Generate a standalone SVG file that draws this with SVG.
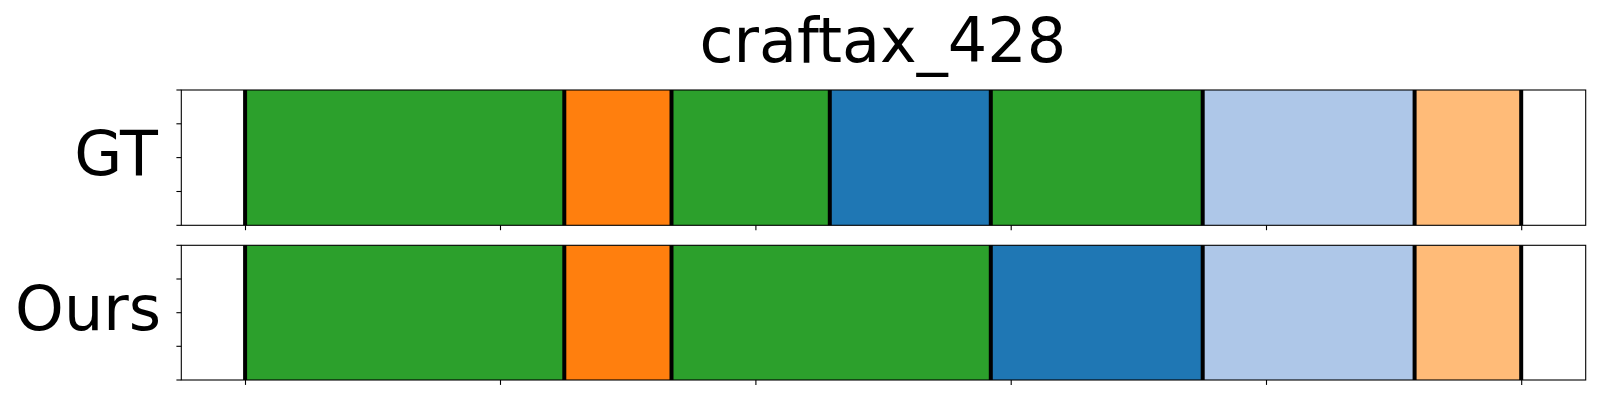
<svg xmlns="http://www.w3.org/2000/svg" width="1600" height="400" viewBox="0 0 1600 400">
<style>
text{font-family:"DejaVu Sans","Liberation Sans",sans-serif;fill:#000}
.t{font-size:62px}
.lab{font-size:62px;text-anchor:end}
.g{fill:#2ca02c}.o{fill:#ff7f0e}.b{fill:#1f77b4}.lb{fill:#aec7e8}.lo{fill:#ffbb78}
.v{stroke:#000;stroke-width:4}
.sp{fill:none;stroke:#000;stroke-width:1.1}
.tk{stroke:#000;stroke-width:1.1}
</style>
<rect width="1600" height="400" fill="#fff"/>
<text class="t" x="882.8" y="62.3" text-anchor="middle">craftax_428</text>
<g id="gt">
<rect x="181.3" y="90" width="1404.4" height="135.3" fill="#fff"/>
<rect class="g" x="245.1" y="90" width="319.2" height="135.3"/>
<rect class="o" x="564.3" y="90" width="107.2" height="135.3"/>
<rect class="g" x="671.5" y="90" width="158.3" height="135.3"/>
<rect class="b" x="829.8" y="90" width="161" height="135.3"/>
<rect class="g" x="990.8" y="90" width="211.9" height="135.3"/>
<rect class="lb" x="1202.7" y="90" width="211.9" height="135.3"/>
<rect class="lo" x="1414.6" y="90" width="107.3" height="135.3"/>
<g class="v">
<line x1="245.1" y1="90" x2="245.1" y2="225.3"/>
<line x1="564.3" y1="90" x2="564.3" y2="225.3"/>
<line x1="671.5" y1="90" x2="671.5" y2="225.3"/>
<line x1="829.8" y1="90" x2="829.8" y2="225.3"/>
<line x1="990.8" y1="90" x2="990.8" y2="225.3"/>
<line x1="1202.7" y1="90" x2="1202.7" y2="225.3"/>
<line x1="1414.6" y1="90" x2="1414.6" y2="225.3"/>
<line x1="1521.2" y1="90" x2="1521.2" y2="225.3"/>
</g>
<rect class="sp" x="181.3" y="90" width="1404.4" height="135.3"/>
<g class="tk">
<line x1="176.4" y1="90" x2="181.3" y2="90"/>
<line x1="176.4" y1="123.8" x2="181.3" y2="123.8"/>
<line x1="176.4" y1="157.6" x2="181.3" y2="157.6"/>
<line x1="176.4" y1="191.5" x2="181.3" y2="191.5"/>
<line x1="176.4" y1="225.3" x2="181.3" y2="225.3"/>
<line x1="245.5" y1="225.3" x2="245.5" y2="230.2"/>
<line x1="500.5" y1="225.3" x2="500.5" y2="230.2"/>
<line x1="755.9" y1="225.3" x2="755.9" y2="230.2"/>
<line x1="1011.2" y1="225.3" x2="1011.2" y2="230.2"/>
<line x1="1266.5" y1="225.3" x2="1266.5" y2="230.2"/>
<line x1="1521.7" y1="225.3" x2="1521.7" y2="230.2"/>
</g>
<text class="lab" x="158" y="175">GT</text>
</g>
<g id="ours">
<rect x="181.3" y="245.3" width="1404.4" height="134.7" fill="#fff"/>
<rect class="g" x="245.1" y="245.3" width="319.2" height="134.7"/>
<rect class="o" x="564.3" y="245.3" width="107.2" height="134.7"/>
<rect class="g" x="671.5" y="245.3" width="319.3" height="134.7"/>
<rect class="b" x="990.8" y="245.3" width="211.9" height="134.7"/>
<rect class="lb" x="1202.7" y="245.3" width="211.9" height="134.7"/>
<rect class="lo" x="1414.6" y="245.3" width="107.3" height="134.7"/>
<g class="v">
<line x1="245.1" y1="245.3" x2="245.1" y2="380"/>
<line x1="564.3" y1="245.3" x2="564.3" y2="380"/>
<line x1="671.5" y1="245.3" x2="671.5" y2="380"/>
<line x1="990.8" y1="245.3" x2="990.8" y2="380"/>
<line x1="1202.7" y1="245.3" x2="1202.7" y2="380"/>
<line x1="1414.6" y1="245.3" x2="1414.6" y2="380"/>
<line x1="1521.2" y1="245.3" x2="1521.2" y2="380"/>
</g>
<rect class="sp" x="181.3" y="245.3" width="1404.4" height="134.7"/>
<g class="tk">
<line x1="176.4" y1="245.3" x2="181.3" y2="245.3"/>
<line x1="176.4" y1="279" x2="181.3" y2="279"/>
<line x1="176.4" y1="312.7" x2="181.3" y2="312.7"/>
<line x1="176.4" y1="346.3" x2="181.3" y2="346.3"/>
<line x1="176.4" y1="380" x2="181.3" y2="380"/>
<line x1="245.5" y1="380" x2="245.5" y2="384.9"/>
<line x1="500.5" y1="380" x2="500.5" y2="384.9"/>
<line x1="755.9" y1="380" x2="755.9" y2="384.9"/>
<line x1="1011.2" y1="380" x2="1011.2" y2="384.9"/>
<line x1="1266.5" y1="380" x2="1266.5" y2="384.9"/>
<line x1="1521.7" y1="380" x2="1521.7" y2="384.9"/>
</g>
<text class="lab" x="161" y="330">Ours</text>
</g>
</svg>
